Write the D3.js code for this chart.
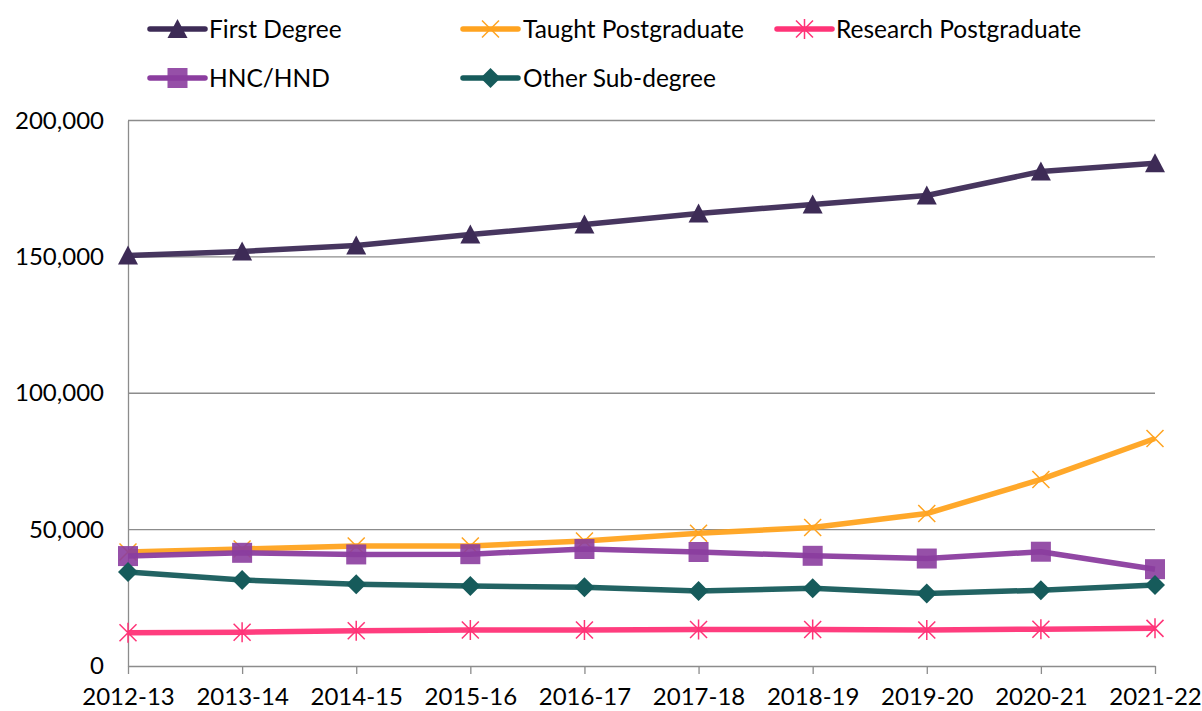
<!DOCTYPE html>
<html>
<head>
<meta charset="utf-8">
<script src="https://cdn.jsdelivr.net/npm/d3@7"></script>
<style>
  body { margin: 0; background: #fff; }
  text { font-family: Lato, "Open Sans", sans-serif; fill: #000; }
</style>
</head>
<body>
<svg class="chart"></svg>
<script>
var years = ["2012-13", "2013-14", "2014-15", "2015-16", "2016-17", "2017-18", "2018-19", "2019-20", "2020-21", "2021-22"];
var firstDegree = [150500, 152000, 154200, 158200, 161900, 165900, 169200, 172500, 181300, 184300];
var taughtPG    = [41800, 42900, 44000, 44000, 45800, 48700, 50800, 55900, 68400, 83400];
var researchPG  = [12200, 12400, 12900, 13200, 13200, 13400, 13400, 13200, 13500, 13800];
var hncHnd      = [40300, 41500, 40900, 41000, 42900, 41800, 40400, 39400, 41900, 35500];
var otherSub    = [34500, 31500, 30000, 29300, 28900, 27500, 28500, 26600, 27800, 29700];
var yTicks = [0, 50000, 100000, 150000, 200000];

var series = [
  {name: "First Degree", values: firstDegree, color: "#3d2b56", symbol: "triangle"},
  {name: "Taught Postgraduate", values: taughtPG, color: "#ffa31f", symbol: "x"},
  {name: "Research Postgraduate", values: researchPG, color: "#ff3377", symbol: "asterisk"},
  {name: "HNC/HND", values: hncHnd, color: "#8b3d9f", symbol: "square"},
  {name: "Other Sub-degree", values: otherSub, color: "#165b5b", symbol: "diamond"}
];

var W = 1202, H = 711;
var margin = {top: 120.5, right: 47, bottom: 45, left: 128},
    width = W - margin.left - margin.right,
    height = H - margin.top - margin.bottom;

var svg = d3.select(".chart").attr("width", W).attr("height", H);
var chart = svg.append("g")
    .attr("transform", "translate(" + margin.left + "," + margin.top + ")");

var x = d3.scalePoint().domain(years).range([0, width]);
var y = d3.scaleLinear().domain([0, 200000]).range([height, 0]);

// gridlines
chart.append("g").selectAll("line")
    .data(yTicks.slice(1))
  .enter().append("line")
    .attr("x1", 0).attr("x2", width)
    .attr("y1", d => y(d)).attr("y2", d => y(d))
    .attr("stroke", "#8c8c8c").attr("stroke-width", 1.3);

// y axis
var yAxis = chart.append("g")
    .call(d3.axisLeft(y).tickValues(yTicks).tickSize(0).tickPadding(24).tickFormat(d3.format(",")));
yAxis.select(".domain").attr("stroke", "#8c8c8c").attr("stroke-width", 1.3);
yAxis.selectAll("text").style("font-size", "24px");

// x axis
var xAxis = chart.append("g")
    .attr("transform", "translate(0," + height + ")")
    .call(d3.axisBottom(x).tickSize(8).tickPadding(14).tickSizeOuter(0));
xAxis.select(".domain").attr("stroke", "#8c8c8c").attr("stroke-width", 1.3);
xAxis.selectAll(".tick line").attr("stroke", "#8c8c8c").attr("stroke-width", 1.3);
xAxis.selectAll("text").style("font-size", "24px");

var line = d3.line()
    .x((d, i) => x(years[i]))
    .y(d => y(d));

function drawMarker(g, sym, color) {
  if (sym == "triangle") {
    g.append("path").attr("d", "M0,-10L10,9L-10,9Z").attr("fill", color);
  } else if (sym == "square") {
    g.append("rect").attr("x", -10).attr("y", -10).attr("width", 20).attr("height", 20)
      .attr("fill", color).attr("opacity", 0.9);
  } else if (sym == "diamond") {
    g.append("path").attr("d", "M0,-10L10,0L0,10L-10,0Z").attr("fill", color);
  } else if (sym == "x") {
    g.append("path").attr("d", "M-8.5,-8.5L8.5,8.5M-8.5,8.5L8.5,-8.5").attr("stroke", color).attr("stroke-width", 1.5);
  } else if (sym == "asterisk") {
    g.append("path").attr("d", "M-8.5,-8.5L8.5,8.5M-8.5,8.5L8.5,-8.5M0,-10L0,10").attr("stroke", color).attr("stroke-width", 1.5);
  }
}

series.forEach(function(s) {
  var g = chart.append("g");
  g.append("path")
      .attr("d", line(s.values))
      .attr("fill", "none")
      .attr("stroke", s.color)
      .attr("stroke-width", 5.5)
      .attr("stroke-linejoin", "round")
      .attr("opacity", 0.95);
  g.selectAll(".pt")
      .data(s.values)
    .enter().append("g")
      .attr("transform", (d, i) => "translate(" + x(years[i]) + "," + y(d) + ")")
      .each(function() { drawMarker(d3.select(this), s.symbol, s.color); });
});

// legend
var legendPos = [
  {lx: 150, tx: 209, ly: 29}, {lx: 463, tx: 523, ly: 29}, {lx: 777, tx: 836, ly: 29},
  {lx: 150, tx: 209, ly: 78}, {lx: 463, tx: 523, ly: 78}
];
series.forEach(function(s, i) {
  var p = legendPos[i];
  var g = svg.append("g").attr("transform", "translate(" + p.lx + "," + p.ly + ")");
  g.append("line").attr("x1", 0).attr("x2", 55).attr("y1", 0).attr("y2", 0)
    .attr("stroke", s.color).attr("stroke-width", 5.5).attr("stroke-linecap", "round");
  var m = g.append("g").attr("transform", "translate(27.5,0)");
  drawMarker(m, s.symbol, s.color);
  g.append("text").attr("x", p.tx - p.lx).attr("y", 0).attr("dy", "0.35em")
    .style("font-size", "24.5px").text(s.name);
});
</script>
</body>
</html>
